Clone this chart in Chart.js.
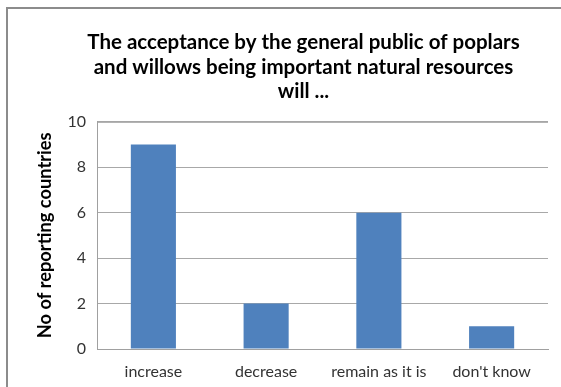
<!DOCTYPE html>
<html>
<head>
<meta charset="utf-8">
<script src="https://cdn.jsdelivr.net/npm/chart.js@4"></script>
<style>
  body { margin: 0; background: #fff; }
  #wrap { position: relative; width: 561px; height: 387px; overflow: hidden; }
  #frame { position: absolute; left: 6px; top: 7px; width: 600px; height: 420px;
           border: 2px solid #8c8c8c; box-sizing: border-box; }
  #acceptanceChart { position: absolute; left: 0; top: 0; }
</style>
</head>
<body>
<div id="wrap">
  <div id="frame"></div>
  <canvas id="acceptanceChart" width="561" height="387"></canvas>
</div>
<script>
var categories = ["increase", "decrease", "remain as it is", "don't know"];
var countryCounts = [9, 2, 6, 1];
var titleLines = [
  "The acceptance by the general public of poplars",
  "and willows being important natural resources",
  "will ..."
];
var yAxisLabel = "No of reporting countries";

function init() {
  var ctx = document.getElementById("acceptanceChart");
  Chart.defaults.font.family = "Lato, 'Open Sans', sans-serif";

  new Chart(ctx, {
    type: 'bar',
    data: {
      labels: categories,
      datasets: [{
        data: countryCounts,
        backgroundColor: '#4f81bd',
        borderWidth: 0,
        categoryPercentage: 0.4,
        barPercentage: 1.0
      }]
    },
    options: {
      responsive: false,
      animation: false,
      layout: { padding: { left: 26, right: 13, top: 0, bottom: 0 } },
      plugins: {
        legend: { display: false },
        tooltip: { enabled: false },
        title: {
          display: true,
          text: titleLines,
          color: '#000',
          font: { size: 20.5, weight: 'bold' },
          lineHeight: 1.05,
          padding: { top: 30, bottom: 18 }
        }
      },
      scales: {
        x: {
          grid: { display: false, drawTicks: false },
          border: { color: '#a0a0a0' },
          ticks: { color: '#333', font: { size: 16 }, padding: 13, maxRotation: 0 },
          afterFit: function(scale) { scale.height = 38; }
        },
        y: {
          min: 0,
          max: 10,
          ticks: { stepSize: 2, color: '#333', font: { size: 16 }, padding: 11 },
          grid: { color: '#a8a8a8', drawTicks: false },
          border: { color: '#a0a0a0' },
          title: {
            display: true,
            text: yAxisLabel,
            color: '#000',
            font: { size: 18.3, weight: 'bold' },
            padding: { top: 8, bottom: 6 }
          },
          afterFit: function(scale) { scale.width = 71; }
        }
      }
    },
    plugins: [{
      // centre the title on the outer frame rather than the padded box
      id: 'titleSpan',
      afterLayout: function(chart) {
        if (chart.titleBlock) {
          chart.titleBlock.left = 0;
          chart.titleBlock.right = 607;
        }
      }
    }, {
      id: 'plotTopBorder',
      afterDraw: function(chart) {
        var a = chart.chartArea, c = chart.ctx;
        c.save();
        c.strokeStyle = '#a0a0a0';
        c.lineWidth = 1;
        c.beginPath();
        c.moveTo(a.left, a.top + 0.5);
        c.lineTo(a.right, a.top + 0.5);
        c.stroke();
        c.restore();
      }
    }]
  });
}

document.addEventListener("DOMContentLoaded", init);
</script>
</body>
</html>
